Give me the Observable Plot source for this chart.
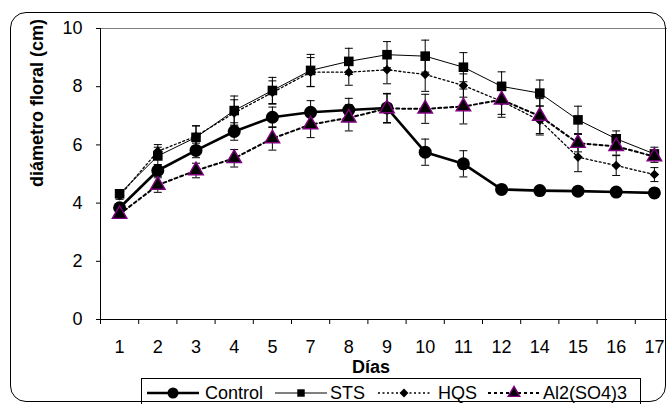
<!DOCTYPE html>
<html><head><meta charset="utf-8">
<script src="https://cdn.jsdelivr.net/npm/d3@7"></script>
<script src="https://cdn.jsdelivr.net/npm/@observablehq/plot@0.6"></script>
<style>
body{margin:0;background:#fff;font-family:"Liberation Sans",Arial,sans-serif;}
#wrap{position:relative;width:667px;height:404px;overflow:hidden;background:#fff;}
#chart svg{display:block;}
#border{position:absolute;left:10px;top:12px;width:654px;height:388px;border:1px solid #000;border-radius:16px;pointer-events:none;}
#legend{position:absolute;left:141px;top:378px;}
</style></head>
<body>
<div id="wrap"><div id="chart"></div><div id="legend"></div><div id="border"></div></div>
<script>
const days = ["1","2","3","4","5","7","8","9","10","11","12","14","15","16","17"];
const yTicks = [0,2,4,6,8,10];

const control    = [3.84,5.12,5.81,6.46,6.95,7.12,7.20,7.27,5.75,5.35,4.47,4.43,4.41,4.38,4.35];
const controlErr = [0.12,0.20,0.25,0.30,0.35,0.40,0.40,0.50,0.45,0.45,0.15,0.12,0.15,0.15,0.15];
const sts        = [4.32,5.62,6.26,7.18,7.87,8.56,8.87,9.10,9.05,8.67,8.01,7.78,6.86,6.21,5.69];
const stsErr     = [0.12,0.30,0.40,0.50,0.45,0.55,0.45,0.45,0.55,0.50,0.50,0.45,0.47,0.27,0.23];
const hqs        = [4.25,5.78,6.30,7.10,7.80,8.50,8.50,8.58,8.42,8.04,7.50,6.84,5.58,5.29,4.98];
const hqsErr     = [0.12,0.23,0.35,0.45,0.40,0.50,0.45,0.48,0.58,0.40,0.45,0.50,0.50,0.34,0.24];
const al         = [3.62,4.62,5.12,5.54,6.22,6.70,6.93,7.25,7.24,7.32,7.55,6.99,6.06,5.95,5.60];
const alErr      = [0.12,0.25,0.25,0.30,0.40,0.45,0.45,0.50,0.50,0.60,0.60,0.60,0.30,0.30,0.20];

const series = [
  {name:"Control", values:control, err:controlErr, symbol:"circle", r:6.5, lr:5.5, stroke:"#000", sw:0, w:2.6, dash:null},
  {name:"STS", values:sts, err:stsErr, symbol:"square", r:5.4, lr:4.2, stroke:"#000", sw:0, w:1, dash:null},
  {name:"HQS", values:hqs, err:hqsErr, symbol:"diamond2", r:4.3, lr:4.0, stroke:"#000", sw:0, w:1.3, dash:"2,2.5"},
  {name:"Al2(SO4)3", values:al, err:alErr, symbol:"triangle", r:5.4, lr:4.3, stroke:"#800080", sw:1.4, w:2, dash:"3,3"}
];

const cap = {draw(ctx, size){ const w = Math.sqrt(size/Math.PI); ctx.moveTo(-w,0); ctx.lineTo(w,0); }};

const marks = [
  Plot.ruleY([10], {stroke:"#808080", strokeWidth:1}),
  Plot.ruleY([0], {stroke:"#000"}),
  Plot.ruleX([-0.5], {stroke:"#000"}),
  Plot.axisY(yTicks, {tickSize:4, tickPadding:14, fontSize:18, label:null}),
  Plot.axisX(d3.range(days.length), {tickSize:0, tickPadding:21, tickFormat:i=>days[i], fontSize:18, label:null}),
  Plot.axisX(d3.range(days.length+1).map(i=>i-0.5), {tickSize:5, tickFormat:()=>"", label:null}),
  Plot.text(["diámetro floral (cm)"], {frameAnchor:"left", dx:-63, dy:13, rotate:-90, fontWeight:"bold", fontSize:18}),
  Plot.text(["Días"], {frameAnchor:"bottom", dx:-16, dy:48, fontWeight:"bold", fontSize:18, lineAnchor:"middle"})
];

for (const s of series) {
  const rows = days.map((d,i)=>({i, v:s.values[i], e:s.err[i]}));
  marks.push(
    Plot.ruleX(rows, {x:"i", y1:d=>d.v-d.e, y2:d=>d.v+d.e, stroke:"#000", strokeWidth:1}),
    Plot.dot(rows, {x:"i", y:d=>d.v+d.e, symbol:cap, r:4, stroke:"#000", fill:"none", strokeWidth:1}),
    Plot.dot(rows, {x:"i", y:d=>d.v-d.e, symbol:cap, r:4, stroke:"#000", fill:"none", strokeWidth:1}),
    Plot.line(rows, {x:"i", y:"v", stroke:"#000", strokeWidth:s.w, strokeDasharray:s.dash}),
    Plot.dot(rows, {x:"i", y:"v", symbol:s.symbol, r:s.r, fill:"#000", stroke:s.stroke, strokeWidth:s.sw})
  );
}

const chart = Plot.plot({
  width:667, height:378,
  marginTop:28, marginBottom:59, marginLeft:100, marginRight:-6,
  x:{type:"linear", domain:[-0.5, days.length-0.5], range:[100,673]},
  y:{domain:[0,10]},
  style:{fontFamily:"Liberation Sans, Arial, sans-serif", fontSize:"18px", color:"#000", background:"transparent"},
  marks
});
document.getElementById("chart").appendChild(chart);

// legend
const lg = d3.select("#legend").append("svg").attr("width",501).attr("height",30).style("display","block");
lg.append("rect").attr("x",0.5).attr("y",0.5).attr("width",499).attr("height",40).attr("fill","#fff").attr("stroke","#000");
const items = [[6,205],[134,330],[237,438],[347,543]];
const sym = {circle:d3.symbolCircle, square:d3.symbolSquare, diamond2:d3.symbolDiamond2, triangle:d3.symbolTriangle};
series.forEach((s,k)=>{
  const [x0,tx] = items[k];
  const cy = 15;
  lg.append("line").attr("x1",x0).attr("x2",x0+52).attr("y1",cy).attr("y2",cy)
    .attr("stroke","#000").attr("stroke-width",s.w).attr("stroke-dasharray",s.dash);
  lg.append("path").attr("transform",`translate(${x0+26},${cy})`)
    .attr("d", d3.symbol(sym[s.symbol], Math.PI*s.lr*s.lr)())
    .attr("fill","#000").attr("stroke",s.stroke).attr("stroke-width",s.sw);
  lg.append("text").attr("x",tx-141).attr("y",cy).attr("dy","0.35em")
    .attr("font-size",18).attr("font-family","Liberation Sans, Arial, sans-serif").text(s.name);
});
</script>
</body></html>
